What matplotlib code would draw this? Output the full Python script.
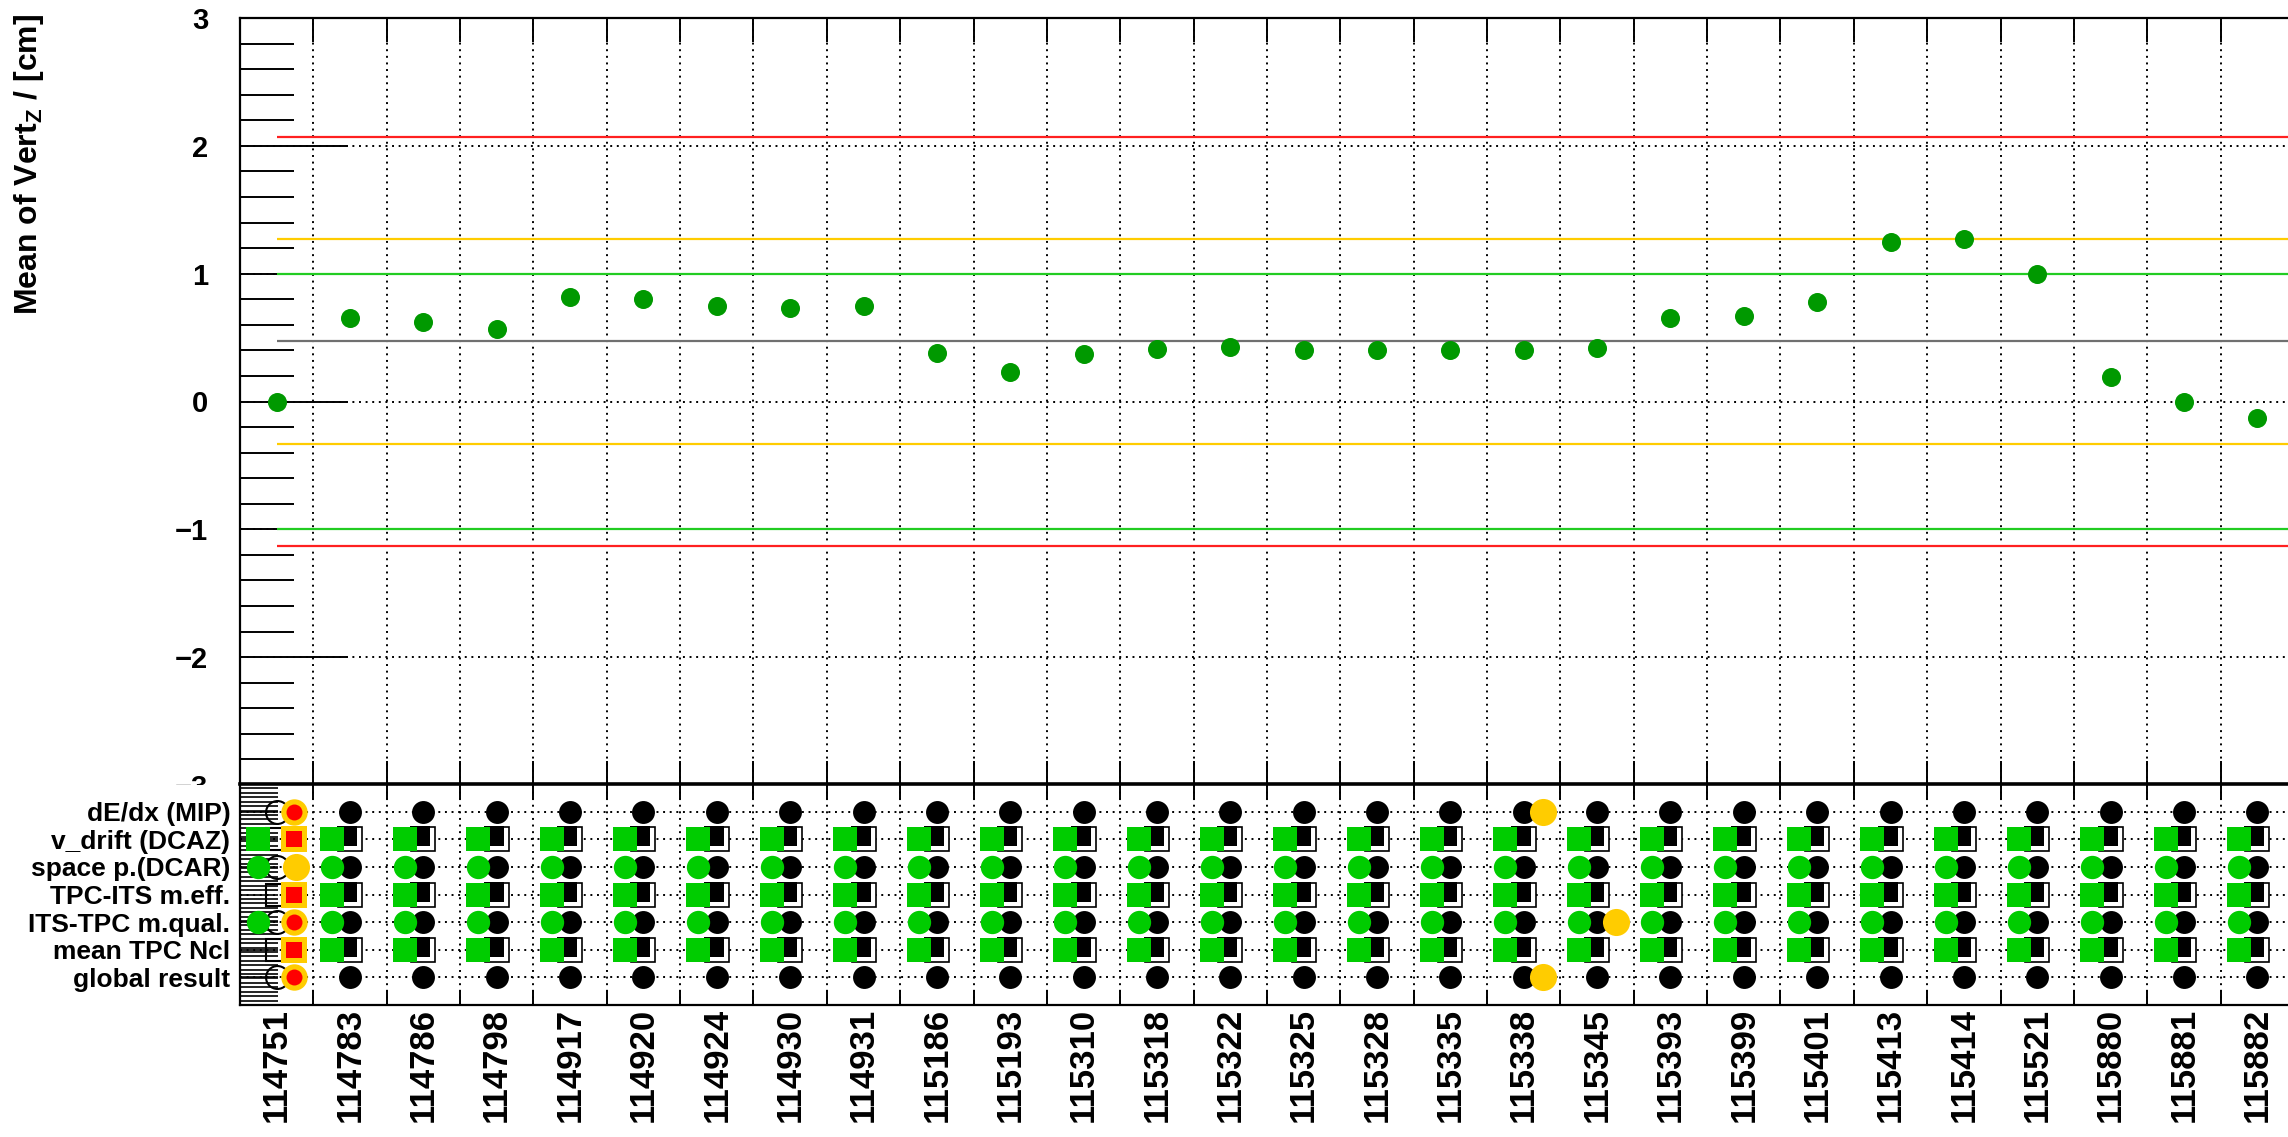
import numpy as np
import matplotlib
matplotlib.use('Agg')
import matplotlib.pyplot as plt
import matplotlib.transforms as mtransforms
from matplotlib.patches import Rectangle
from matplotlib.ticker import MultipleLocator

plt.rcParams['font.family'] = ['Liberation Sans', 'DejaVu Sans']
plt.rcParams['font.weight'] = 'bold'
plt.rcParams['mathtext.fontset'] = 'custom'
plt.rcParams['mathtext.rm'] = 'Liberation Sans:bold'
plt.rcParams['mathtext.it'] = 'Liberation Sans:bold'
plt.rcParams['mathtext.bf'] = 'Liberation Sans:bold'

# run numbers (x categories)
runs = ['114751', '114783', '114786', '114798', '114917', '114920', '114924',
        '114930', '114931', '115186', '115193', '115310', '115318', '115322',
        '115325', '115328', '115335', '115338', '115345', '115393', '115399',
        '115401', '115413', '115414', '115521', '115880', '115881', '115882']

# mean of vertex z per run [cm]
vertz_mean = [0.00, 0.65, 0.62, 0.57, 0.82, 0.80, 0.75,
              0.73, 0.75, 0.38, 0.23, 0.37, 0.41, 0.43,
              0.40, 0.40, 0.40, 0.40, 0.42, 0.65, 0.67,
              0.78, 1.25, 1.27, 1.00, 0.19, 0.00, -0.13]

# reference lines
ref_mean = 0.47
ref_green = [-1.0, 1.0]
ref_yellow = [-0.33, 1.27]
ref_red = [-1.13, 2.07]

# status panel
checks = ['dE/dx (MIP)', 'v_drift (DCAZ)', 'space p.(DCAR)', 'TPC-ITS m.eff.',
          'ITS-TPC m.qual.', 'mean TPC Ncl', 'global result']
check_marker = ['o', 's', 'o', 's', 'o', 's', 'o']
# k: black only, g: green + black, Y: black + yellow, y: green + black + yellow
# R: open black + red, r: green + open black + red, q: green + open black + yellow
check_status = [
    "R" "kkkkkkkkkkkkkkkk" "Y" "kkkkkkkkkk",
    "r" "ggggggggg" "ggggggggg" "ggggggggg",
    "q" "ggggggggg" "ggggggggg" "ggggggggg",
    "R" "ggggggggg" "ggggggggg" "ggggggggg",
    "r" "ggggggggggggggggg" "y" "ggggggggg",
    "R" "ggggggggg" "ggggggggg" "ggggggggg",
    "R" "kkkkkkkkkkkkkkkk" "Y" "kkkkkkkkkk",
]

W, H = 2288, 1137
n = len(runs)
xc = np.arange(n) + 0.5
dotted = (0, (1, 2.4))

fig = plt.figure(figsize=(W / 100, H / 100), dpi=100)

""" Top panel """
ax1 = fig.add_axes([240 / W, 1 - 785 / H, 2054 / W, (785 - 18) / H])
ax1.set_axisbelow(True)
ax1.plot(xc, vertz_mean, 'o', color='#009900', ms=13.7, mew=0, zorder=6)

ax1.hlines([ref_mean], 0.5, n, color='#707070', lw=1.6, zorder=3)
ax1.hlines(ref_green, 0.5, n, color='#22cc22', lw=1.6, zorder=3)
ax1.hlines(ref_yellow, 0.5, n, color='#ffcc00', lw=1.6, zorder=3)
ax1.hlines(ref_red, 0.5, n, color='#ff2020', lw=1.6, zorder=3)

ax1.set_xlim(0, n)
ax1.set_ylim(-3, 3)
ax1.set_xticks(np.arange(1, n))
ax1.tick_params(axis='x', which='major', direction='in', top=True, bottom=True,
                length=17, width=1.4, labelbottom=False)
ax1.set_yticks(np.arange(-3, 4))
ax1.yaxis.set_minor_locator(MultipleLocator(0.2))
ax1.tick_params(axis='y', which='major', direction='in', length=78, width=1.4,
                labelsize=21, pad=23)
ax1.tick_params(axis='y', which='minor', direction='in', length=39, width=1.4)
ax1.grid(True, which='major', color='black', linestyle=dotted, linewidth=1.4)
for sp in ax1.spines.values():
    sp.set_linewidth(1.6)

fig.text(29 / W, 1 - 14 / H, r'Mean of Vert$_{\mathrm{Z}}$ / [cm]', rotation=90,
         ha='center', va='top', fontsize=23, fontweight='bold')

""" Status panel """
ax2 = fig.add_axes([240 / W, 1 - 1005 / H, 2054 / W, (1005 - 784) / H])
ax2.set_zorder(3)
ax2.set_axisbelow(True)
# white pad background left of the frame (hides lower half of the -3 label)
ax2.add_patch(Rectangle((0, 0), 240 / W, 1 - 785 / H, transform=fig.transFigure,
                        facecolor='white', edgecolor='none', clip_on=False, zorder=0.1))

fill_sq_tr = mtransforms.offset_copy(ax2.transData, fig=fig, x=-3, y=3, units='dots')

for i, (mk, status) in enumerate(zip(check_marker, check_status)):
    yrow = 7 - i
    for j, code in enumerate(status):
        x0 = xc[j]
        # black marker
        if code in 'RrQq':
            ax2.plot(x0, yrow, mk, mfc='none', mec='black', ms=16.5, mew=1.5, zorder=3)
        elif mk == 'o':
            ax2.plot(x0, yrow, 'o', color='black', ms=16.5, mew=0, zorder=3)
        else:
            ax2.plot(x0, yrow, 's', mfc='white', mec='black', ms=17, mew=1.2, zorder=3)
            ax2.plot(x0, yrow, 's', color='black', ms=13.8, mew=0, transform=fill_sq_tr,
                     zorder=3.1)
        # green marker
        if code in 'gyrq':
            ax2.plot(x0 - 0.25, yrow, mk, color='#00cc00', ms=16.8, mew=0, zorder=4)
        # flags
        if code in 'Yyq':
            ax2.plot(x0 + 0.26, yrow, 'o' if code != 'q' else mk, color='#ffcc00',
                     ms=19.5, mew=0, zorder=5)
        if code in 'Rr':
            ax2.plot(x0 + 0.24, yrow, mk, color='#ffcc00', ms=19, mew=0, zorder=5)
            ax2.plot(x0 + 0.24, yrow, mk, color='#ff0000',
                     ms=11.5 if mk == 'o' else 12, mew=0, zorder=5.1)

ax2.set_xlim(0, n)
ax2.set_ylim(0, 8)
ax2.set_xticks(xc, runs, rotation=90, fontsize=25, fontweight='bold')
ax2.tick_params(axis='x', which='major', length=0, pad=2)
ax2.set_xticks(np.arange(1, n), minor=True)
ax2.tick_params(axis='x', which='minor', direction='in', top=True, bottom=True,
                length=11, width=1.4)
ax2.set_yticks([7, 6, 5, 4, 3, 2, 1], checks, fontsize=19, fontweight='bold')
ax2.tick_params(axis='y', which='major', direction='in', length=27, width=1.2, pad=7)
ax2.yaxis.set_minor_locator(MultipleLocator(0.16))
ax2.tick_params(axis='y', which='minor', direction='in', length=27, width=1.2)
ax2.grid(True, axis='x', which='minor', color='black', linestyle=dotted, linewidth=1.4)
ax2.grid(True, axis='y', which='major', color='black', linestyle=dotted, linewidth=1.4)
for sp in ax2.spines.values():
    sp.set_linewidth(1.6)
ax2.spines['top'].set_linewidth(2.6)

fig.savefig('out.png', dpi=100)
